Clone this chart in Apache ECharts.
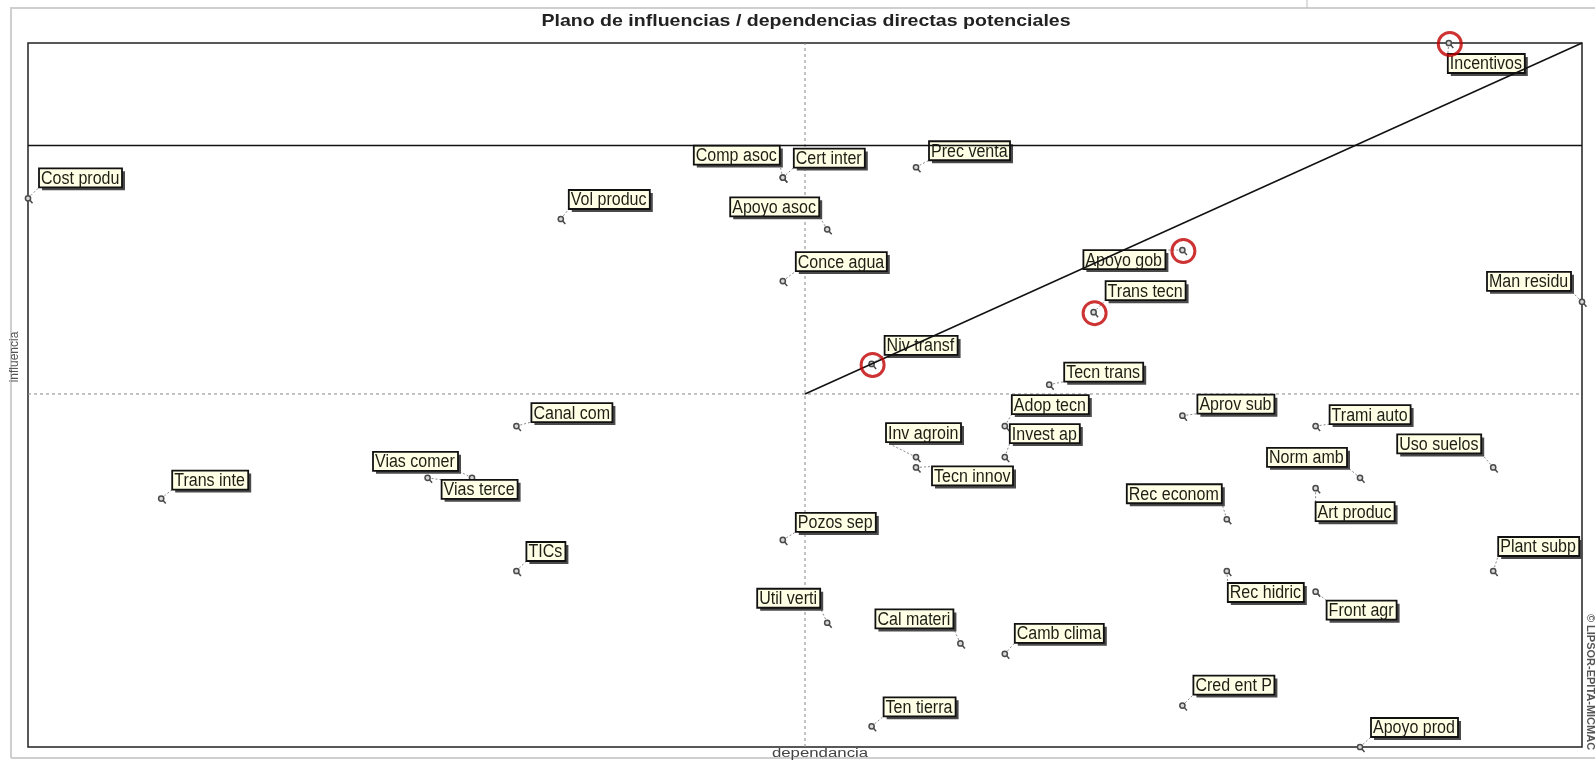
<!DOCTYPE html>
<html><head><meta charset="utf-8">
<script src="https://cdn.jsdelivr.net/npm/echarts@6/dist/echarts.min.js"></script>
<style>html,body{margin:0;padding:0;background:#fff;}#chart{width:1595px;height:761px;}</style>
</head><body><div id="chart"></div>
<script>
// ---- data ----
const variables = ['Cost produ','Vol produc','Comp asoc','Cert inter','Apoyo asoc','Prec venta','Incentivos','Conce agua','Apoyo gob','Trans tecn','Man residu','Niv transf','Tecn trans','Adop tecn','Aprov sub','Trami auto','Canal com','Inv agroin','Invest ap','Tecn innov','Uso suelos','Norm amb','Vias comer','Vias terce','Trans inte','Rec econom','Art produc','Pozos sep','TICs','Plant subp','Rec hidric','Front agr','Util verti','Cal materi','Camb clima','Cred ent P','Ten tierra','Apoyo prod'];
const dependence = [40,52,57,57,58,60,72,57,66,64,75,59,63,62,66,69,51,60,62,60,73,70,50,49,43,67,69,57,51,73,67,69,58,61,62,66,59,70];
const influence  = [73,71,75,75,70,76,88,65,68,62,63,57,55,51,52,51,51,48,48,47,47,46,46,46,44,42,45,40,37,37,37,35,32,30,29,24,22,20];
const highlighted = ['Incentivos','Apoyo gob','Trans tecn','Niv transf'];
const dependenceRange = [40, 75];
const influenceRange = [20, 88];
const meanDependence = 57.5;
const meanInfluence = 54.1;
const upperBandInfluence = 78.1;
const titleText = 'Plano de influencias / dependencias directas potenciales';
const xName = 'dependancia';
const yName = 'influencia';
const watermark = '\u00A9 LIPSOR-EPITA-MICMAC';

// ---- layout: label box placement relative to its marker (px); 'r' = anchored by right edge ----
const labelPlacement = [
  [11,-30,'l'],[8,-29,'l'],[-3,-32,'r'],[11,-29,'l'],[-8,-32,'r'],[13,-26,'l'],[-1,11,'l'],[13,-29,'l'],
  [-17,0,'r'],[12,-31,'l'],[-11,-30,'r'],[13,-28,'l'],[15,-22,'l'],[7,-31,'l'],[15,-21,'l'],[14,-21,'l'],
  [15,-23,'l'],[-30,-34,'l'],[5,-33,'l'],[16,-1,'l'],[-12,-33,'r'],[-13,-30,'r'],[-14,-26,'r'],[14,2,'l'],
  [11,-28,'l'],[-5,-35,'r'],[0,14,'l'],[13,-27,'l'],[10,-29,'l'],[5,-34,'l'],[1,12,'l'],[11,9,'l'],
  [-7,-34,'r'],[-7,-34,'r'],[10,-30,'l'],[11,-30,'l'],[12,-29,'l'],[11,-29,'l']
];

const points = variables.map((n, i) => [dependence[i], influence[i], n]);
const redPoints = points.filter(p => highlighted.indexOf(p[2]) >= 0);

const FONT = '"Liberation Sans", Arial, sans-serif';
const measureCtx = document.createElement('canvas').getContext('2d');
measureCtx.font = '16px ' + FONT;
function textW(t) { return measureCtx.measureText(t).width; }

function renderPoint(params, api) {
  const i = params.dataIndex;
  const p = api.coord([api.value(0), api.value(1)]);
  const name = variables[i];
  const pl = labelPlacement[i];
  const w = Math.round(textW(name) + 5);
  const h = 19;
  const bx = pl[2] === 'r' ? p[0] + pl[0] - w : p[0] + pl[0];
  const by = p[1] + pl[1];
  const corners = [[bx, by], [bx + w, by], [bx, by + h], [bx + w, by + h]];
  let best = corners[0], bd = Infinity;
  corners.forEach(c => { const d = (c[0]-p[0])**2 + (c[1]-p[1])**2; if (d < bd) { bd = d; best = c; } });
  return {
    type: 'group',
    children: [
      { type: 'line', shape: { x1: p[0], y1: p[1], x2: best[0], y2: best[1] }, style: { stroke: '#8a8a8a', lineWidth: 1, lineDash: [2, 2] } },
      { type: 'rect', shape: { x: bx + 3, y: by + 3, width: w, height: h }, style: { fill: '#4a4a4a' } },
      { type: 'rect', shape: { x: bx, y: by, width: w, height: h }, style: { fill: '#FFFFE6', stroke: '#111', lineWidth: 1.8 } },
      { type: 'text', x: bx + 2, y: by + h / 2 + 1, scaleX: 0.89, style: { text: name, font: '18px ' + FONT, fill: '#1e1e14', verticalAlign: 'middle', align: 'left' } },
      { type: 'circle', shape: { cx: p[0], cy: p[1], r: 2.6 }, style: { fill: '#d8d8d8', stroke: '#4a4a4a', lineWidth: 1.5 } },
      { type: 'line', shape: { x1: p[0] + 1.8, y1: p[1] + 1.8, x2: p[0] + 4.5, y2: p[1] + 5 }, style: { stroke: '#4a4a4a', lineWidth: 1.5 } }
    ]
  };
}

const chart = echarts.init(document.getElementById('chart'), null, { renderer: 'canvas' });
chart.setOption({
  animation: false,
  backgroundColor: '#fff',
  grid: { left: 28, right: 13, top: 43, bottom: 14, show: true, borderColor: '#222', borderWidth: 1.5, containLabel: false, outerBoundsMode: 'none' },
  xAxis: { type: 'value', min: dependenceRange[0], max: dependenceRange[1], axisLine: { show: false }, axisTick: { show: false }, axisLabel: { show: false }, splitLine: { show: false } },
  yAxis: { type: 'value', min: influenceRange[0], max: influenceRange[1], axisLine: { show: false }, axisTick: { show: false }, axisLabel: { show: false }, splitLine: { show: false } },
  graphic: [
    { type: 'line', shape: { x1: 10, y1: 8, x2: 1595, y2: 8 }, style: { stroke: '#cfcfcf', lineWidth: 2 } },
    { type: 'line', shape: { x1: 11, y1: 8, x2: 11, y2: 758 }, style: { stroke: '#cfcfcf', lineWidth: 2 } },
    { type: 'line', shape: { x1: 11, y1: 758, x2: 1595, y2: 758 }, style: { stroke: '#cfcfcf', lineWidth: 2 } },
    { type: 'line', shape: { x1: 1307, y1: 0, x2: 1307, y2: 8 }, style: { stroke: '#bbb', lineWidth: 1 } },
    { type: 'text', x: 806, y: 21, scaleX: 1.15, style: { text: titleText, font: 'bold 17px ' + FONT, fill: '#222', align: 'center', verticalAlign: 'middle' } },
    { type: 'text', x: 15, y: 357, rotation: Math.PI / 2, style: { text: yName, font: '12px ' + FONT, fill: '#555', align: 'center', verticalAlign: 'middle' } },
    { type: 'text', x: 820, y: 754, scaleX: 1.4, style: { text: xName, font: '12px ' + FONT, fill: '#444', align: 'center', verticalAlign: 'middle' } },
    { type: 'text', x: 1590, y: 682, rotation: -Math.PI / 2, style: { text: watermark, font: 'bold 11px ' + FONT, fill: '#555', align: 'center', verticalAlign: 'middle' } }
  ],
  series: [
    { type: 'line', z: 1, symbol: 'none', silent: true, lineStyle: { color: '#888', width: 1, type: [3, 3] },
      data: [[meanDependence, influenceRange[0]], [meanDependence, influenceRange[1]]] },
    { type: 'line', z: 1, symbol: 'none', silent: true, lineStyle: { color: '#888', width: 1, type: [3, 3] },
      data: [[dependenceRange[0], meanInfluence], [dependenceRange[1], meanInfluence]] },
    { type: 'custom', z: 3, renderItem: renderPoint, data: points, clip: false },
    { type: 'line', z: 5, symbol: 'none', silent: true, lineStyle: { color: '#111', width: 1.5 },
      data: [[dependenceRange[0], upperBandInfluence], [dependenceRange[1], upperBandInfluence]] },
    { type: 'line', z: 5, symbol: 'none', silent: true, lineStyle: { color: '#111', width: 1.5 },
      data: [[meanDependence, meanInfluence], [dependenceRange[1], influenceRange[1]]] },
    { type: 'scatter', z: 6, symbol: 'circle', symbolSize: 23, symbolOffset: [1, 1], silent: true,
      itemStyle: { color: 'rgba(0,0,0,0)', borderColor: '#c00000', borderWidth: 3 },
      data: redPoints.map(p => [p[0], p[1]]) }
  ]
});
</script>
</body></html>
